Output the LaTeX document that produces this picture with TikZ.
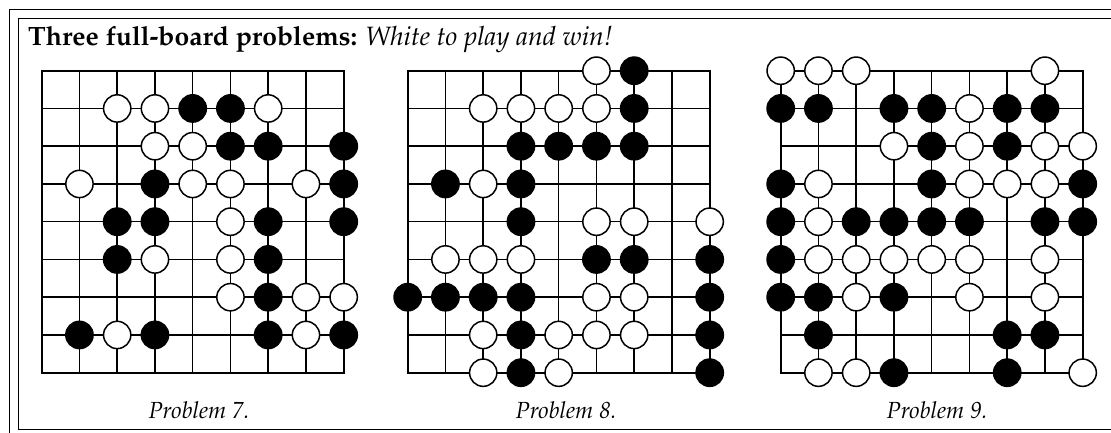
\documentclass[tikz,border=0pt]{standalone}
\usepackage[T1]{fontenc}
\renewcommand{\rmdefault}{ppl}
\usepackage{tikz}

\begin{document}
\begin{tikzpicture}[
    x=1pt, y=-1pt,
    gridline/.style={line width=1.5pt},
    edge/.style={line width=2.4pt},
    stone/.style={circle, draw, line width=1.5pt, minimum size=27.3pt, inner sep=0pt},
    wstone/.style={stone, fill=white},
    bstone/.style={stone, fill=black},
    frame/.style={line width=1pt},
    caption/.style={font=\fontsize{23.3}{27}\selectfont\itshape, anchor=base}
]
    \useasboundingbox (0,0) rectangle (1111,432);
    \clip (0,0) rectangle (1111,432);

    % Frame
    \draw[frame] (9,9) rectangle (1140,460);
    \draw[frame] (18,18) rectangle (1125,429.5);

    % Title
    \node[anchor=base west, inner sep=0pt, font=\fontsize{26.5}{30}\selectfont] (title) at (28,45)
        {\textbf{Three full-board problems:} \textit{White to play and win!}};

    % Problem 7
    \begin{scope}[shift={(41.7,70.7)}, x=37.75pt, y=-37.75pt]
        \foreach \k in {0,...,8} {
            \draw[gridline] (\k,0) -- (\k,8);
            \draw[gridline] (0,\k) -- (8,\k);
        }
        \draw[edge] (0,0) rectangle (8,8);
        \foreach \c/\r [count=\i] in {2/1,3/1,6/1,3/2,4/2,1/3,4/3,5/3,7/3,5/4,3/5,5/5,5/6,7/6,8/6,2/7,7/7}
            \node[wstone] (p7w\i) at (\c,\r) {};
        \foreach \c/\r [count=\i] in {4/1,5/1,5/2,6/2,8/2,3/3,8/3,2/4,3/4,6/4,8/4,2/5,6/5,6/6,1/7,3/7,6/7,8/7}
            \node[bstone] (p7b\i) at (\c,\r) {};
    \end{scope}

    % Problem 8
    \begin{scope}[shift={(407.7,70.7)}, x=37.75pt, y=-37.75pt]
        \foreach \k in {0,...,8} {
            \draw[gridline] (\k,0) -- (\k,8);
            \draw[gridline] (0,\k) -- (8,\k);
        }
        \draw[edge] (0,0) rectangle (8,8);
        \foreach \c/\r [count=\i] in {5/0,2/1,3/1,4/1,5/1,2/3,5/4,6/4,8/4,1/5,2/5,3/5,5/6,6/6,2/7,4/7,5/7,6/7,2/8,4/8}
            \node[wstone] (p8w\i) at (\c,\r) {};
        \foreach \c/\r [count=\i] in {6/0,6/1,3/2,4/2,5/2,6/2,1/3,3/3,3/4,5/5,6/5,8/5,0/6,1/6,2/6,3/6,8/6,3/7,8/7,3/8,8/8}
            \node[bstone] (p8b\i) at (\c,\r) {};
    \end{scope}

    % Problem 9
    \begin{scope}[shift={(780.7,70.7)}, x=37.75pt, y=-37.75pt]
        \foreach \k in {0,...,8} {
            \draw[gridline] (\k,0) -- (\k,8);
            \draw[gridline] (0,\k) -- (8,\k);
        }
        \draw[edge] (0,0) rectangle (8,8);
        \foreach \c/\r [count=\i] in {0/0,1/0,2/0,7/0,5/1,3/2,5/2,7/2,8/2,1/3,5/3,6/3,7/3,1/4,1/5,2/5,3/5,4/5,5/5,7/5,2/6,5/6,7/6,1/8,2/8,8/8}
            \node[wstone] (p9w\i) at (\c,\r) {};
        \foreach \c/\r [count=\i] in {0/1,1/1,3/1,4/1,6/1,7/1,4/2,6/2,0/3,4/3,8/3,0/4,2/4,3/4,4/4,5/4,7/4,8/4,0/5,0/6,1/6,3/6,1/7,6/7,7/7,3/8,6/8}
            \node[bstone] (p9b\i) at (\c,\r) {};
    \end{scope}

    % Captions
    \node[caption] (cap7) at (199,418) {Problem 7.};
    \node[caption] (cap8) at (566,418) {Problem 8.};
    \node[caption] (cap9) at (937,418) {Problem 9.};
\end{tikzpicture}
\end{document}
